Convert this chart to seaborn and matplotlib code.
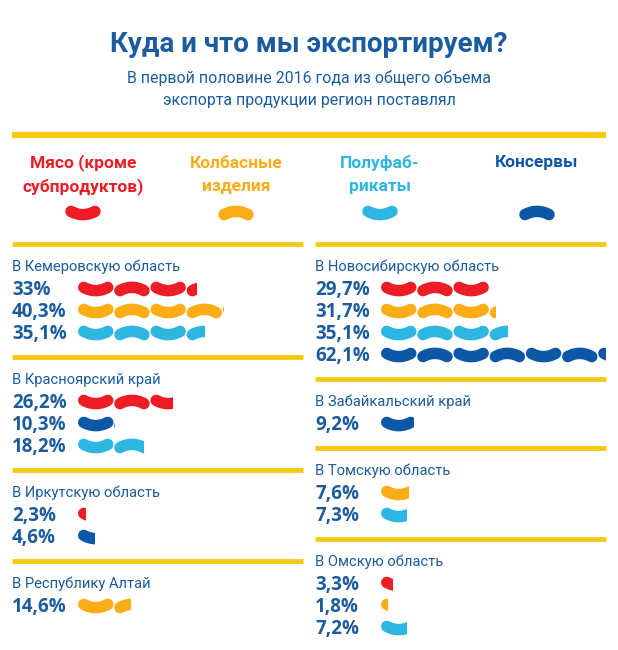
import matplotlib
matplotlib.use('Agg')
import matplotlib.pyplot as plt
import numpy as np
import seaborn as sns
from matplotlib.patches import Rectangle

# legend categories
categories = ['Мясо (кроме\nсубпродуктов)', 'Колбасные\nизделия', 'Полуфаб-\nрикаты', 'Консервы']
palette = ['#ee1d25', '#fbad18', '#2db6e1', '#0c58a6']

# left column
left_regions = ['В Кемеровскую область', 'В Красноярский край', 'В Иркутскую область', 'В Республику Алтай']
left_values = [[33.0, 40.3, 35.1], [26.2, 10.3, 18.2], [2.3, 4.6], [14.6]]
left_kinds = [[0, 1, 2], [0, 3, 2], [0, 3], [1]]

# right column
right_regions = ['В Новосибирскую область', 'В Забайкальский край', 'В Томскую область', 'В Омскую область']
right_values = [[29.7, 31.7, 35.1, 62.1], [9.2], [7.6, 7.3], [3.3, 1.8, 7.2]]
right_kinds = [[0, 1, 2, 3], [3], [1, 2], [0, 1, 2]]

TEXT = '#1b5c9e'
YELLOW = '#f7c914'
PX_PER_PCT = 3.62
PERIOD = 36.2
SAUSAGE = 35.5
THICK = 11.5

sns.set_theme(style='white')
plt.rcParams['font.family'] = ['Roboto', 'DejaVu Sans']

fig = plt.figure(figsize=(6.18, 6.5), dpi=100)
ax = fig.add_axes([0, 0, 1, 1])
ax.set_xlim(0, 618)
ax.set_ylim(650, 0)
ax.axis('off')

lw = THICK * 72 / 100.0


def sausage(x0, yc, color, smile, clip=None):
	cap = THICK / 2
	t = np.linspace(0, 1, 40)
	xs = x0 + cap + t * (SAUSAGE - 2 * cap)
	sag = 3.2 if smile else -3.2
	ys = yc + sag * (0.5 - (2 * t - 1) ** 2)
	line, = ax.plot(xs, ys, color=color, lw=lw, solid_capstyle='round')
	if clip is not None:
		line.set_clip_path(clip)


def bar(x0, yc, value, kind):
	width = value * PX_PER_PCT
	rect = Rectangle((x0, yc - 15), width, 30, transform=ax.transData)
	n = int(np.ceil(value / 10.0))
	for k in range(n):
		sausage(x0 + k * PERIOD, yc, palette[kind], k % 2 == 0, clip=rect)


def column(x, bar_x, right_end, regions, values, kinds):
	y = 244
	for name, vals, ks in zip(regions, values, kinds):
		ax.hlines(y, x, right_end, color=YELLOW, lw=3.5)
		ty = y + 23
		ax.text(x, ty, name, color=TEXT, fontsize=10.6, va='center', ha='left')
		ry = ty
		for v, k in zip(vals, ks):
			ry += 22
			label = ('%g' % v).replace('.', ',') + '%'
			ax.text(x, ry + 1, label, color=TEXT, fontsize=13.5, fontweight='bold',
				family=['Open Sans', 'DejaVu Sans'], va='center', ha='left')
			bar(bar_x, ry, v, k)
		y = ry + 24


# header
ax.text(309, 44, 'Куда и что мы экспортируем?', color=TEXT, fontsize=20,
	fontweight='bold', ha='center', va='center')
ax.text(309, 78, 'В первой половине 2016 года из общего объема', color=TEXT,
	fontsize=11.4, ha='center', va='center')
ax.text(309, 101, 'экспорта продукции регион поставлял', color=TEXT,
	fontsize=11.4, ha='center', va='center')
ax.hlines(135, 12, 606, color=YELLOW, lw=4.5)

# legend
legend_x = [83, 236, 380, 537]
for i, (cat, cx) in enumerate(zip(categories, legend_x)):
	for j, ln in enumerate(cat.split('\n')):
		ax.text(cx, 163 + 24 * j, ln, color=palette[i], fontsize=12.5,
			fontweight='bold', ha='center', va='center')
	sausage(cx - SAUSAGE / 2, 213, palette[i], i % 2 == 0)

column(12, 78, 303, left_regions, left_values, left_kinds)
column(315, 381, 606, right_regions, right_values, right_kinds)

fig.savefig('out.png', dpi=100)
